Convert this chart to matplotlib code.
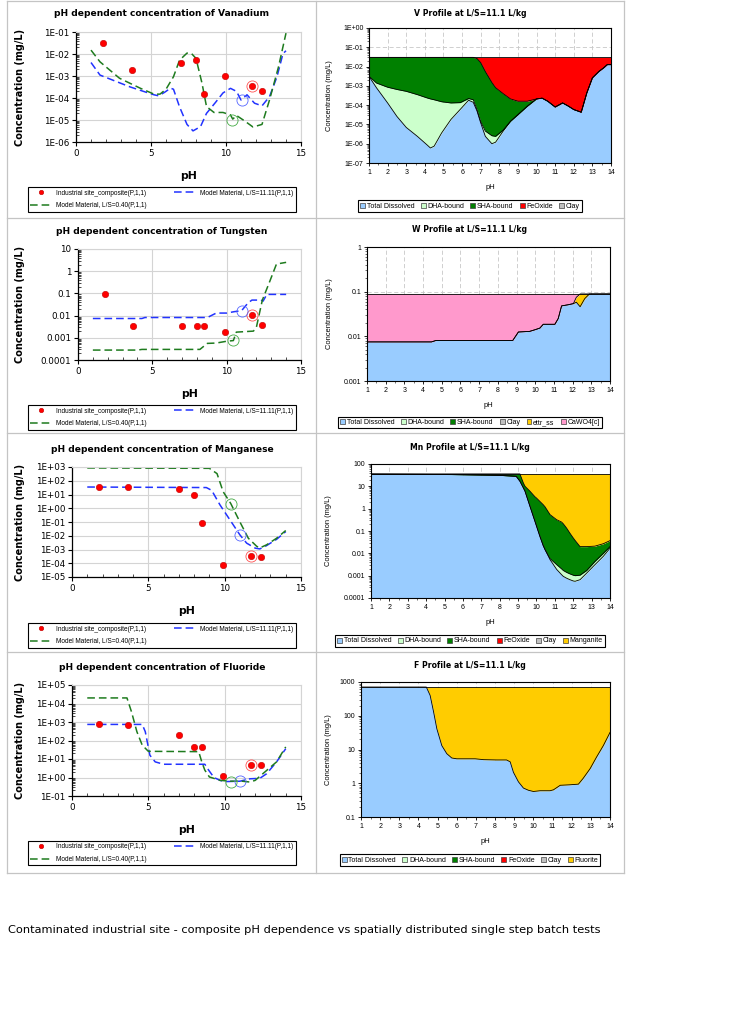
import numpy as np
import matplotlib
matplotlib.use("Agg")
import matplotlib.pyplot as plt
from matplotlib.lines import Line2D
from matplotlib.patches import Patch
from matplotlib.ticker import LogLocator, NullFormatter, MultipleLocator

# ---------------- data: left panels (pH dependence) ----------------
site_ph = [1.8, 3.7, 7.0, 8.0, 8.5, 9.9, 11.7, 12.4]
v_site = [3.2e-2, 1.9e-3, 4.0e-3, 5.2e-3, 1.6e-4, 1.0e-3, 3.5e-4, 2.1e-4]
w_site = [0.095, 0.0035, 0.0035, 0.0035, 0.0035, 0.0018, 0.0105, 0.0039]
mn_site = [35, 35, 24, 8.5, 0.08, 8e-5, 3.1e-4, 3.0e-4]
f_site = [740, 650, 195, 42, 45, 1.26, 4.6, 4.8]

v_ph_b = [1, 1.6, 2.5, 3.6, 4.5, 5.2, 5.5, 5.9, 6.3, 6.5, 6.9, 7.4, 7.8, 8.3, 8.7,
          9.3, 9.8, 10.3, 10.7, 11.0, 11.4, 11.9, 12.4, 12.9, 13.4, 13.8, 14]
v_b = [4.1e-3, 1.1e-3, 6.3e-4, 3.2e-4, 2.0e-4, 1.4e-4, 1.26e-4, 1.8e-4, 2.8e-4, 2.5e-4,
       4.0e-5, 6.3e-6, 3.2e-6, 5.0e-6, 2.0e-5, 6.3e-5, 1.7e-4, 2.75e-4, 2.0e-4, 8.1e-5,
       1.4e-4, 5.8e-5, 4.4e-5, 1.15e-4, 9.3e-4, 1.05e-2, 1.4e-2]
v_ph_g = [1, 1.6, 2.9, 4.3, 5.2, 5.6, 6.0, 6.5, 6.9, 7.4, 7.7, 8.0, 8.4, 8.7, 9.2, 9.8,
          10.3, 10.45, 10.7, 11.2, 11.8, 12.4, 12.9, 13.5, 14]
v_g = [1.5e-2, 4.4e-3, 7.9e-4, 2.75e-4, 1.5e-4, 1.5e-4, 2.5e-4, 9.3e-4, 5.2e-3, 1.1e-2,
       1.05e-2, 6.3e-3, 4.7e-4, 4.1e-5, 2.2e-5, 2.2e-5, 1.7e-5, 1.1e-5, 1.6e-5, 9.5e-6,
       4.8e-6, 6.3e-6, 8.1e-5, 2.6e-3, 8.9e-2]
v_circ = [(11.7, 3.5e-4), (11.05, 8.5e-5), (10.42, 1.0e-5)]

w_ph_b = [1, 4.3, 4.5, 8.7, 9.3, 10.0, 10.5, 11.0, 11.45, 11.7, 12.3, 12.45, 12.7, 14]
w_b = [0.0074, 0.0074, 0.0082, 0.0082, 0.013, 0.013, 0.015, 0.0166, 0.038, 0.05, 0.05,
       0.045, 0.09, 0.09]
w_ph_g = [1, 4.0, 4.3, 8.2, 8.7, 9.3, 10.0, 10.45, 10.65, 11.8, 12.0, 12.4, 12.9, 13.35, 14]
w_g = [2.8e-4, 2.8e-4, 3.0e-4, 3.0e-4, 5.6e-4, 5.8e-4, 7.0e-4, 7.5e-4, 1.8e-3, 2.0e-3,
       3.0e-3, 5.0e-2, 3.5e-1, 2.1, 2.5]
w_circ = [(11.7, 0.0105), (11.0, 0.0166), (10.45, 7.9e-4)]

mn_ph_b = [1, 8.8, 9.15, 9.7, 10.35, 11.0, 11.44, 12.0, 12.3, 12.7, 13.4, 14]
mn_b = [35, 32, 20, 1.7, 0.14, 0.0115, 0.0029, 1.26e-3, 1.1e-3, 1.8e-3, 5.5e-3, 2.0e-2]
mn_ph_g = [1, 9.0, 9.5, 9.9, 10.4, 11.0, 11.55, 12.1, 12.3, 12.75, 13.4, 14]
mn_g = [850, 800, 330, 16, 2.2, 0.1, 6.6e-3, 1.7e-3, 1.3e-3, 2.2e-3, 6.6e-3, 2.4e-2]
mn_circ = [(11.7, 3.1e-4), (11.0, 0.011), (10.41, 2.2)]

f_ph_b = [1, 4.6, 4.8, 5.1, 5.45, 6.0, 8.7, 8.95, 9.3, 9.7, 10.0, 11.0, 11.65, 12.3,
          12.75, 13.4, 14]
f_b = [740, 740, 300, 16, 7, 5.2, 5.2, 2.5, 1.0, 0.7, 0.6, 0.63, 0.85, 0.9, 1.6, 7, 36]
f_ph_g = [1, 3.6, 3.9, 4.25, 4.6, 5.0, 8.3, 8.5, 8.7, 9.0, 9.7, 10.4, 11.0, 11.65, 12.0,
          12.5, 13.4, 14]
f_g = [2e4, 2e4, 3500, 300, 56, 26, 25, 7, 2.5, 1.07, 0.7, 0.63, 0.65, 0.57, 0.7, 1.6, 7, 45]
f_circ = [(11.7, 4.6), (11.0, 0.63), (10.41, 0.57)]

# ---------------- data: right panels (speciation profiles) ----------------
vp_ph = [1, 1.4, 2, 2.5, 3, 3.6, 4.1, 4.3, 4.5, 4.9, 5.4, 5.9, 6.35, 6.6, 6.8, 7.0, 7.25,
         7.6, 7.8, 8.2, 8.6, 9.0, 9.5, 10.0, 10.3, 10.6, 11.0, 11.4, 11.7, 12.0, 12.4,
         12.7, 13.0, 13.35, 13.6, 13.8, 14]
vp_diss = [3.1e-3, 8e-4, 1.3e-4, 2.6e-5, 7e-6, 2.4e-6, 9e-7, 6e-7, 7.5e-7, 3.6e-6, 1.8e-5,
           6e-5, 1.8e-4, 1.4e-4, 5e-5, 1.2e-5, 2.4e-6, 1.0e-6, 1.2e-6, 4.4e-6, 1.45e-5,
           3.2e-5, 8.7e-5, 2.1e-4, 2.3e-4, 1.6e-4, 8e-5, 1.3e-4, 9e-5, 5.9e-5, 4.3e-5,
           4.3e-4, 2.6e-3, 5.6e-3, 8.5e-3, 1.26e-2, 1.26e-2]
vp_dha = [3.1e-3, 1.4e-3, 8.5e-4, 6.5e-4, 5.2e-4, 3.5e-4, 2.4e-4, 2.1e-4, 1.9e-4, 1.5e-4,
          1.3e-4, 1.35e-4, 2.2e-4, 1.9e-4, 6e-5, 1.4e-5, 4.5e-6, 2.6e-6, 2.4e-6, 5e-6,
          1.45e-5, 3.2e-5, 8.7e-5, 2.1e-4, 2.3e-4, 1.6e-4, 8e-5, 1.3e-4, 9e-5, 5.9e-5,
          4.3e-5, 4.3e-4, 2.6e-3, 5.6e-3, 8.5e-3, 1.26e-2, 1.26e-2]
vp_sha = [3e-2, 3e-2, 3e-2, 3e-2, 3e-2, 3e-2, 3e-2, 3e-2, 3e-2, 3e-2, 3e-2, 3e-2, 3e-2,
          3e-2, 2.6e-2, 1.6e-2, 5.5e-3, 1.5e-3, 8e-4, 4e-4, 2.1e-4, 1.6e-4, 1.6e-4, 2.1e-4,
          2.3e-4, 1.6e-4, 8e-5, 1.3e-4, 9e-5, 5.9e-5, 4.3e-5, 4.3e-4, 2.6e-3, 5.6e-3,
          8.5e-3, 1.26e-2, 1.26e-2]
vp_total = 3.0e-2

wp_ph = [1, 4.45, 4.7, 8.8, 9.1, 9.7, 10.0, 10.25, 10.43, 11.05, 11.23, 11.41, 11.77,
         12.04, 12.2, 12.4, 12.65, 12.9, 14]
wp_diss = [0.0075, 0.0075, 0.0081, 0.0081, 0.0125, 0.0129, 0.0141, 0.0153, 0.0186, 0.0186,
           0.025, 0.048, 0.051, 0.054, 0.058, 0.046, 0.07, 0.089, 0.089]
wp_ettr = [0.0075, 0.0075, 0.0081, 0.0081, 0.0125, 0.0129, 0.0141, 0.0153, 0.0186, 0.0186,
           0.025, 0.048, 0.051, 0.054, 0.075, 0.089, 0.089, 0.089, 0.089]
wp_total = 0.089

mnp_ph = [1, 5, 8, 8.9, 9.1, 9.29, 9.38, 9.65, 9.92, 10.0, 10.19, 10.37, 10.47, 10.74, 11.1,
          11.37, 11.46, 11.64, 11.82, 12.0, 12.1, 12.37, 12.73, 13.18, 13.64, 14]
mnp_diss = [35, 34, 31, 28, 17, 8.5, 6, 1.26, 0.27, 0.17, 0.057, 0.022, 0.0145, 0.0052,
            1.9e-3, 1.1e-3, 9.3e-4, 7.7e-4, 6.6e-4, 5.8e-4, 5.6e-4, 6.6e-4, 1.3e-3, 3.1e-3,
            7.4e-3, 1.7e-2]
mnp_dha = [35, 34, 31, 28, 17, 8.5, 6, 1.26, 0.27, 0.17, 0.057, 0.022, 0.0145, 5.8e-3,
           3.1e-3, 2.0e-3, 1.7e-3, 1.4e-3, 1.2e-3, 1.05e-3, 1.0e-3, 1.05e-3, 1.7e-3, 4.3e-3,
           1.0e-2, 2.0e-2]
mnp_sha = [36, 36, 36, 36, 36, 14, 10, 6, 3.4, 3.0, 2.1, 1.5, 1.2, 0.54, 0.32, 0.25, 0.21,
           0.135, 0.08, 0.049, 0.038, 0.02, 0.02, 0.021, 0.027, 0.037]
mnp_total = 36

fp_ph = [1, 4.41, 4.61, 4.79, 4.96, 5.22, 5.48, 5.74, 6.0, 6.96, 7.4, 8.09, 8.6, 8.79, 8.96,
         9.22, 9.48, 9.74, 10.0, 10.35, 10.87, 11.05, 11.4, 11.9, 12.35, 12.6, 12.96, 13.3,
         13.65, 14]
fp_diss = [710, 710, 400, 130, 41, 13, 7.5, 5.6, 5.3, 5.3, 5.0, 4.9, 4.9, 4.3, 2.1, 1.1,
           0.72, 0.62, 0.57, 0.6, 0.6, 0.64, 0.87, 0.9, 0.94, 1.4, 2.7, 6, 13, 32]
fp_total = 710

# ---------------- styling ----------------
W, H = 736, 1024
fig = plt.figure(figsize=(W / 100, H / 100), dpi=100)
SANS = 'DejaVu Sans'
ARIAL = 'Liberation Sans'

C_DISS = '#99CCFF'
C_DHA = '#CCFFCC'
C_SHA = '#008000'
C_FEOX = '#FF0000'
C_CLAY = '#C0C0C0'
C_YEL = '#FFCC00'
C_PINK = '#FF99CC'
C_BLUE = '#2233FF'
C_GREEN = '#1E7B1E'


def box(x0, y0, x1, y1):
    return [x0 / W, 1 - y1 / H, (x1 - x0) / W, (y1 - y0) / H]


def left_panel(rect, title, title_y, yt, ylab, sc, bph, bc, gph, gc, circ, leg_rect):
    ax = fig.add_axes(box(*rect))
    ax.set_yscale('log')
    ax.set_xlim(0, 15)
    ax.set_ylim(yt[0], yt[-1])
    ax.set_axisbelow(True)
    ax.grid(True, which='major', color='#D4D4D4', lw=0.8)
    for s in ['top', 'right']:
        ax.spines[s].set_color('#D4D4D4')
    for s in ['left', 'bottom']:
        ax.spines[s].set_linewidth(0.9)
    ax.set_yticks(yt, ylab)
    ax.yaxis.set_minor_locator(LogLocator(base=10, subs=np.arange(2, 10)))
    ax.yaxis.set_minor_formatter(NullFormatter())
    ax.set_xticks([0, 5, 10, 15], ['0', '5', '10', '15'])
    ax.xaxis.set_minor_locator(MultipleLocator(1))
    ax.tick_params(which='major', direction='out', length=3, width=0.8, labelsize=6.3, pad=2)
    ax.tick_params(which='minor', direction='in', length=2, width=0.5)
    ax.tick_params(axis='y', which='both', right=False)
    ax.tick_params(axis='x', which='both', top=False)
    for lab in ax.get_xticklabels() + ax.get_yticklabels():
        lab.set_fontfamily(SANS)
    lb, = ax.plot(bph, bc, color=C_BLUE, ls=(0, (5, 2.6)), lw=1.1)
    lg, = ax.plot(gph, gc, color=C_GREEN, ls=(0, (5, 2.6)), lw=1.1)
    ls, = ax.plot(site_ph, sc, 'o', ls='none', ms=4.6, mfc='#FF0000', mec='#C00000', mew=0.4)
    ccols = ['#FF5050', '#5566FF', '#44AA44']
    for (cx, cy), cc in zip(circ, ccols):
        ax.plot([cx], [cy], 'o', ms=8, mfc='none', mec=cc, mew=0.6)
    ax.set_ylabel('Concentration (mg/L)', fontsize=7.0, fontweight='bold', family=SANS)
    ax.yaxis.set_label_coords((25 - rect[0]) / (rect[2] - rect[0]), 0.5)
    ax.set_xlabel('pH', fontsize=7.8, fontweight='bold', family=SANS)
    ax.xaxis.set_label_coords(0.5, -29 / (rect[3] - rect[1]))
    fig.text(162 / W, 1 - title_y / H, title, ha='center', va='center', fontsize=6.6,
             fontweight='bold', family=SANS)
    x0, y0, x1, y1 = leg_rect
    leg = fig.legend([ls, lg, lb],
                     ['Industrial site_composite(P,1,1)', 'Model Material, L/S=0.40(P,1,1)',
                      'Model Material, L/S=11.11(P,1,1)'],
                     loc='center', bbox_to_anchor=(x0 / W, 1 - y1 / H, (x1 - x0) / W, (y1 - y0) / H),
                     bbox_transform=fig.transFigure, mode='expand', ncol=2, numpoints=1,
                     markerscale=0.7,
                     prop={'family': ARIAL, 'size': 4.7}, frameon=True, fancybox=False,
                     edgecolor='black', framealpha=1, borderpad=0.35, labelspacing=0.9,
                     handlelength=3.2, handletextpad=0.8, columnspacing=0.6, borderaxespad=0)
    leg.get_frame().set_linewidth(0.8)
    return ax


def right_panel(rect, title, title_y, yt, ylab, ph, bounds, colors, total, leg_labels,
                leg_colors, leg_y, ylab_x):
    ax = fig.add_axes(box(*rect))
    ax.set_yscale('log')
    ax.set_xlim(1, 14)
    ax.set_ylim(yt[0], yt[-1])
    ax.set_axisbelow(True)
    ax.grid(True, which='major', color='#C8C8C8', lw=0.6, ls=(0, (5, 3)))
    ax.set_yticks(yt, ylab)
    ax.yaxis.set_minor_locator(LogLocator(base=10, subs=np.arange(2, 10)))
    ax.yaxis.set_minor_formatter(NullFormatter())
    ax.set_xticks(range(1, 15), [str(i) for i in range(1, 15)])
    ax.xaxis.set_minor_locator(MultipleLocator(0.5))
    ax.tick_params(which='major', direction='out', length=2.5, width=0.6, labelsize=5.0, pad=1.5)
    ax.tick_params(which='minor', direction='out', length=1.5, width=0.4)
    ax.tick_params(axis='y', which='both', right=False)
    ax.tick_params(axis='x', which='both', top=False)
    for lab in ax.get_xticklabels() + ax.get_yticklabels():
        lab.set_fontfamily(ARIAL)
    for s in ax.spines.values():
        s.set_linewidth(0.8)
    levels = [np.full(len(ph), yt[0])] + [np.asarray(b, dtype=float) for b in bounds] + \
             [np.full(len(ph), total)]
    for i, c in enumerate(colors):
        ax.fill_between(ph, levels[i], levels[i + 1], color=c, lw=0, zorder=2)
    for lv in levels[1:]:
        ax.plot(ph, lv, color='black', lw=0.6, zorder=3)
    ax.set_ylabel('Concentration (mg/L)', fontsize=5.4, family=ARIAL)
    ax.yaxis.set_label_coords((ylab_x - rect[0]) / (rect[2] - rect[0]), 0.5)
    ax.set_xlabel('pH', fontsize=5.4, family=ARIAL)
    ax.xaxis.set_label_coords(0.5, -21 / (rect[3] - rect[1]))
    fig.text(470 / W, 1 - title_y / H, title, ha='center', va='center', fontsize=5.6,
             fontweight='bold', family=SANS)
    handles = [Patch(facecolor=c, edgecolor='#404040', lw=0.5) for c in leg_colors]
    leg = fig.legend(handles, leg_labels, loc='center', bbox_to_anchor=(470 / W, 1 - leg_y / H),
                     bbox_transform=fig.transFigure, ncol=len(leg_labels),
                     prop={'family': ARIAL, 'size': 5.0}, frameon=True, fancybox=False,
                     edgecolor='black', framealpha=1, borderpad=0.3, handlelength=0.7,
                     handleheight=0.7, handletextpad=0.25, columnspacing=0.9, borderaxespad=0)
    leg.get_frame().set_linewidth(0.8)
    return ax


# ---------------- left column ----------------
left_panel((76, 32, 301, 142), 'pH dependent concentration of Vanadium', 14,
           [1e-6, 1e-5, 1e-4, 1e-3, 1e-2, 1e-1],
           ['1E-06', '1E-05', '1E-04', '1E-03', '1E-02', '1E-01'],
           v_site, v_ph_b, v_b, v_ph_g, v_g, v_circ, (28, 187, 296, 212))
left_panel((78, 249, 301, 360), 'pH dependent concentration of Tungsten', 232,
           [1e-4, 1e-3, 1e-2, 1e-1, 1, 10],
           ['0.0001', '0.001', '0.01', '0.1', '1', '10'],
           w_site, w_ph_b, w_b, w_ph_g, w_g, w_circ, (28, 404, 296, 431))
left_panel((72, 467, 301, 577), 'pH dependent concentration of Manganese', 449,
           [1e-5, 1e-4, 1e-3, 1e-2, 1e-1, 1, 10, 100, 1000],
           ['1E-05', '1E-04', '1E-03', '1E-02', '1E-01', '1E+00', '1E+01', '1E+02', '1E+03'],
           mn_site, mn_ph_b, mn_b, mn_ph_g, mn_g, mn_circ, (28, 623, 296, 648))
left_panel((72, 685, 301, 796), 'pH dependent concentration of Fluoride', 668,
           [1e-1, 1, 10, 100, 1e3, 1e4, 1e5],
           ['1E-01', '1E+00', '1E+01', '1E+02', '1E+03', '1E+04', '1E+05'],
           f_site, f_ph_b, f_b, f_ph_g, f_g, f_circ, (28, 840, 296, 866))

# ---------------- right column ----------------
right_panel((369, 28, 611, 163), 'V Profile at L/S=11.1 L/kg', 14,
            [1e-7, 1e-6, 1e-5, 1e-4, 1e-3, 1e-2, 1e-1, 1],
            ['1E-07', '1E-06', '1E-05', '1E-04', '1E-03', '1E-02', '1E-01', '1E+00'],
            vp_ph, [vp_diss, vp_dha, vp_sha], [C_DISS, C_DHA, C_SHA, C_FEOX], vp_total,
            ['Total Dissolved', 'DHA-bound', 'SHA-bound', 'FeOxide', 'Clay'],
            [C_DISS, C_DHA, C_SHA, C_FEOX, C_CLAY], 206, 333)
right_panel((367, 247, 610, 381), 'W Profile at L/S=11.1 L/kg', 230,
            [1e-3, 1e-2, 1e-1, 1], ['0.001', '0.01', '0.1', '1'],
            wp_ph, [wp_diss, wp_ettr], [C_DISS, C_YEL, C_PINK], wp_total,
            ['Total Dissolved', 'DHA-bound', 'SHA-bound', 'Clay', 'ettr_ss', 'CaWO4[c]'],
            [C_DISS, C_DHA, C_SHA, C_CLAY, C_YEL, C_PINK], 422.5, 333)
right_panel((371, 464, 610, 598), 'Mn Profile at L/S=11.1 L/kg', 448,
            [1e-4, 1e-3, 1e-2, 1e-1, 1, 10, 100],
            ['0.0001', '0.001', '0.01', '0.1', '1', '10', '100'],
            mnp_ph, [mnp_diss, mnp_dha, mnp_sha], [C_DISS, C_DHA, C_SHA, C_YEL], mnp_total,
            ['Total Dissolved', 'DHA-bound', 'SHA-bound', 'FeOxide', 'Clay', 'Manganite'],
            [C_DISS, C_DHA, C_SHA, C_FEOX, C_CLAY, C_YEL], 641, 332)
right_panel((361, 682, 610, 817), 'F Profile at L/S=11.1 L/kg', 666,
            [0.1, 1, 10, 100, 1000], ['0.1', '1', '10', '100', '1000'],
            fp_ph, [fp_diss], [C_DISS, C_YEL], fp_total,
            ['Total Dissolved', 'DHA-bound', 'SHA-bound', 'FeOxide', 'Clay', 'Fluorite'],
            [C_DISS, C_DHA, C_SHA, C_FEOX, C_CLAY, C_YEL], 860, 332)

# ---------------- table grid lines ----------------
LC = '#C4C4C4'
for x in [7, 316, 624]:
    fig.add_artist(Line2D([x / W, x / W], [1 - 0.5 / H, 1 - 873 / H], color=LC, lw=0.9))
for y in [0.5, 218, 433, 652, 873]:
    fig.add_artist(Line2D([7 / W, 624 / W], [1 - y / H, 1 - y / H], color=LC, lw=0.9))

fig.text(8 / W, 1 - 930 / H,
         'Contaminated industrial site - composite pH dependence vs spatially distributed single step batch tests',
         ha='left', va='center', fontsize=8.2, family=SANS)

fig.savefig('out.png', dpi=100, facecolor='white')
